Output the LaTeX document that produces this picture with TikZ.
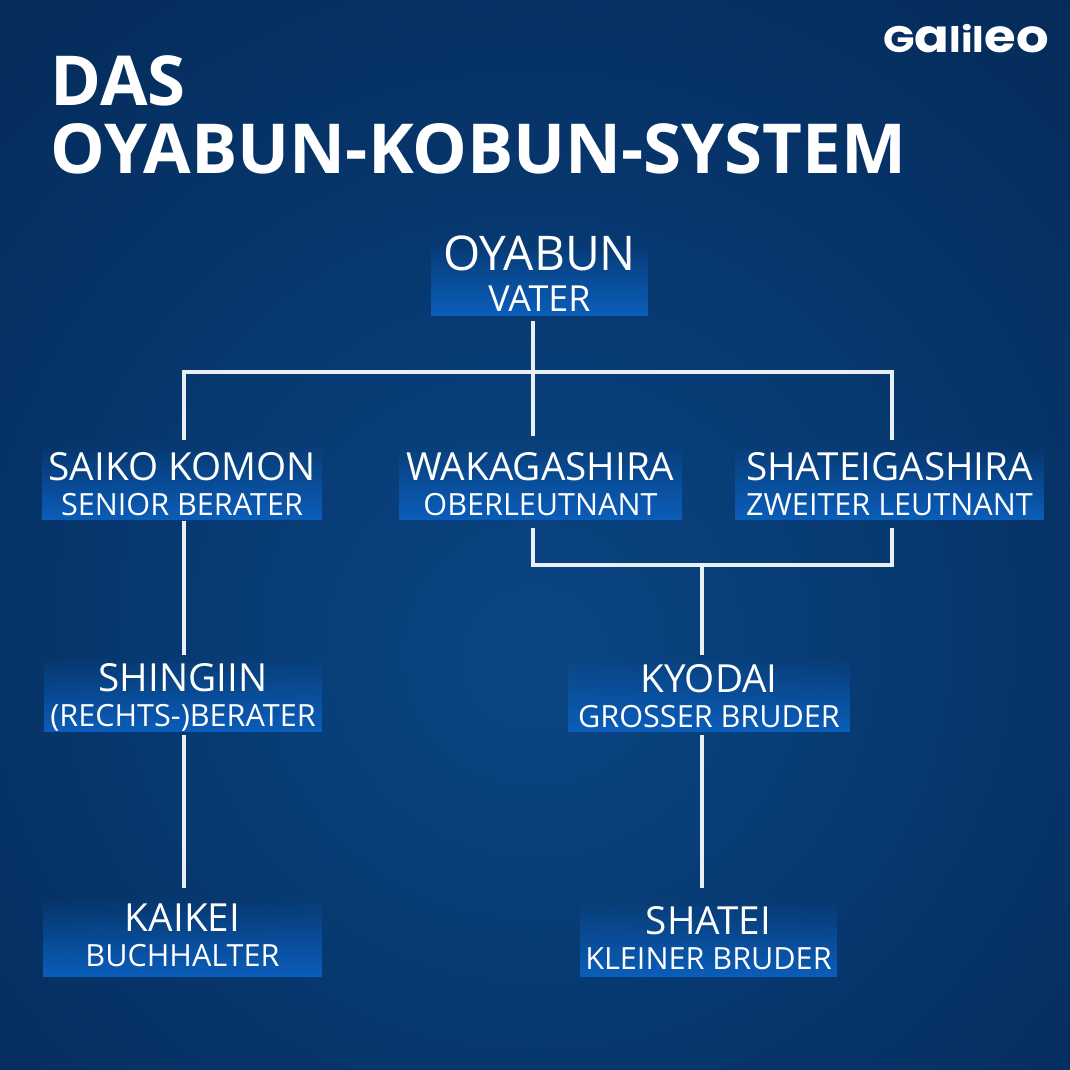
\documentclass[tikz,border=0pt]{standalone}
\usepackage{fontspec}
\setmainfont{Open Sans}
\newfontfamily\logofont{Poppins}
\usetikzlibrary{fadings}
\definecolor{glowblue}{HTML}{0A4684}
\definecolor{midblue}{HTML}{07376E}
\definecolor{edgeblue}{HTML}{03234B}
\definecolor{boxblue}{HTML}{0B5EBB}
\definecolor{linewhite}{HTML}{E8F0F6}
\pgfdeclareradialshading{bgglow}{\pgfpoint{0bp}{-6bp}}{color(0bp)=(glowblue); color(20bp)=(midblue); color(50bp)=(edgeblue); color(80bp)=(edgeblue)}
\tikzfading[name=boxfade, top color=transparent!100, middle color=transparent!0, bottom color=transparent!0]
\tikzset{
	orgbox/.style={path fading=boxfade, fill=boxblue, text=white, align=center, inner sep=0pt, text depth=0pt, text height=0.65cm},
	orgline/.style={draw=linewhite, line width=1.1pt},
	titletext/.style={text=white, anchor=base west, inner sep=0pt, font=\fontsize{19.6}{20}\selectfont\bfseries}
}
\newcommand{\orgtext}[2]{{\fontsize{11}{11}\selectfont #1}\\[-2.2pt]{\fontsize{8.7}{8.7}\selectfont #2}}
\newcommand{\logotext}{\scalebox{1.12}[1]{\fontsize{10.5}{10.5}\selectfont G{\fontsize{13}{13}\selectfont a}{\fontsize{10}{10}\selectfont lil}{\fontsize{13}{13}\selectfont eo}}}

\begin{document}
\begin{tikzpicture}[x=0.01cm, y=-0.01cm]
	% hintergrund
	\path[shading=bgglow] (0,0) rectangle (1070,1070);
	\useasboundingbox (0,0) rectangle (1070,1070);

	% titel
	\node[titletext] (titleone) at (50,106) {DAS};
	\node[titletext] (titletwo) at (50,173) {OYABUN-KOBUN-SYSTEM};
	\node[text=white, inner sep=0pt, font=\logofont\bfseries] (logo) at (966,39) {\logotext};

	% erste ebene
	\node[orgbox, text height=0.66cm, minimum width=2.17cm, minimum height=0.76cm] (oyabun) at (539.5,278) {{\fontsize{13.6}{13.6}\selectfont OYABUN}\\[-0.6pt]{\fontsize{10.2}{10.2}\selectfont VATER}};

	% zweite ebene
	\node[orgbox, minimum width=2.80cm, minimum height=0.75cm] (saiko) at (182,482.5) {\orgtext{SAIKO KOMON}{SENIOR BERATER}};
	\node[orgbox, minimum width=2.83cm, minimum height=0.75cm] (waka) at (540.5,482.5) {\orgtext{WAKAGASHIRA}{OBERLEUTNANT}};
	\node[orgbox, minimum width=3.09cm, minimum height=0.75cm] (shateiga) at (889.5,482.5) {\orgtext{SHATEIGASHIRA}{ZWEITER LEUTNANT}};

	% dritte ebene
	\node[orgbox, text height=0.63cm, minimum width=2.78cm, minimum height=0.75cm] (shingiin) at (183,694.5) {\orgtext{SHINGIIN}{(RECHTS-)BERATER}};
	\node[orgbox, minimum width=2.82cm, minimum height=0.75cm] (kyodai) at (709,694.5) {\orgtext{KYODAI}{GROSSER BRUDER}};

	% vierte ebene
	\node[orgbox, text height=0.58cm, minimum width=2.79cm, minimum height=0.80cm] (kaikei) at (182.5,937) {\orgtext{KAIKEI}{BUCHHALTER}};
	\node[orgbox, text height=0.61cm, minimum width=2.57cm, minimum height=0.77cm] (shatei) at (708.5,938.5) {\orgtext{SHATEI}{KLEINER BRUDER}};

	% verzweigungen
	\coordinate (topbar) at (533,372);
	\coordinate (leftdrop) at (184,372);
	\coordinate (rightdrop) at (892,372);
	\coordinate (lowbar) at (702,565);
	\coordinate (wakaend) at (533,528);
	\coordinate (shateiend) at (892,528);
	\coordinate (bartop) at (533,436);
	\coordinate (lefttop) at (184,440);
	\coordinate (righttop) at (892,440);
	\coordinate (kyodaitop) at (702,655);
	\coordinate (kyodaibot) at (702,735);
	\coordinate (shateitop) at (702,888);
	\coordinate (shingtop) at (184,655);
	\coordinate (shingbot) at (184,735);
	\coordinate (kaikeitop) at (184,888);

	\draw[orgline, shorten <=1.1pt] (oyabun.south -| topbar) -- (bartop);
	\draw[orgline] (lefttop) -- (leftdrop) -- (rightdrop) -- (righttop);

	\draw[orgline] (saiko.south -| shingtop) -- (shingtop);
	\draw[orgline] (shingbot) -- (kaikeitop);

	\draw[orgline] (wakaend) -- (wakaend |- lowbar) -- (shateiend |- lowbar) -- (shateiend);
	\draw[orgline] (lowbar) -- (kyodaitop);
	\draw[orgline] (kyodaibot) -- (shateitop);
\end{tikzpicture}
\end{document}
